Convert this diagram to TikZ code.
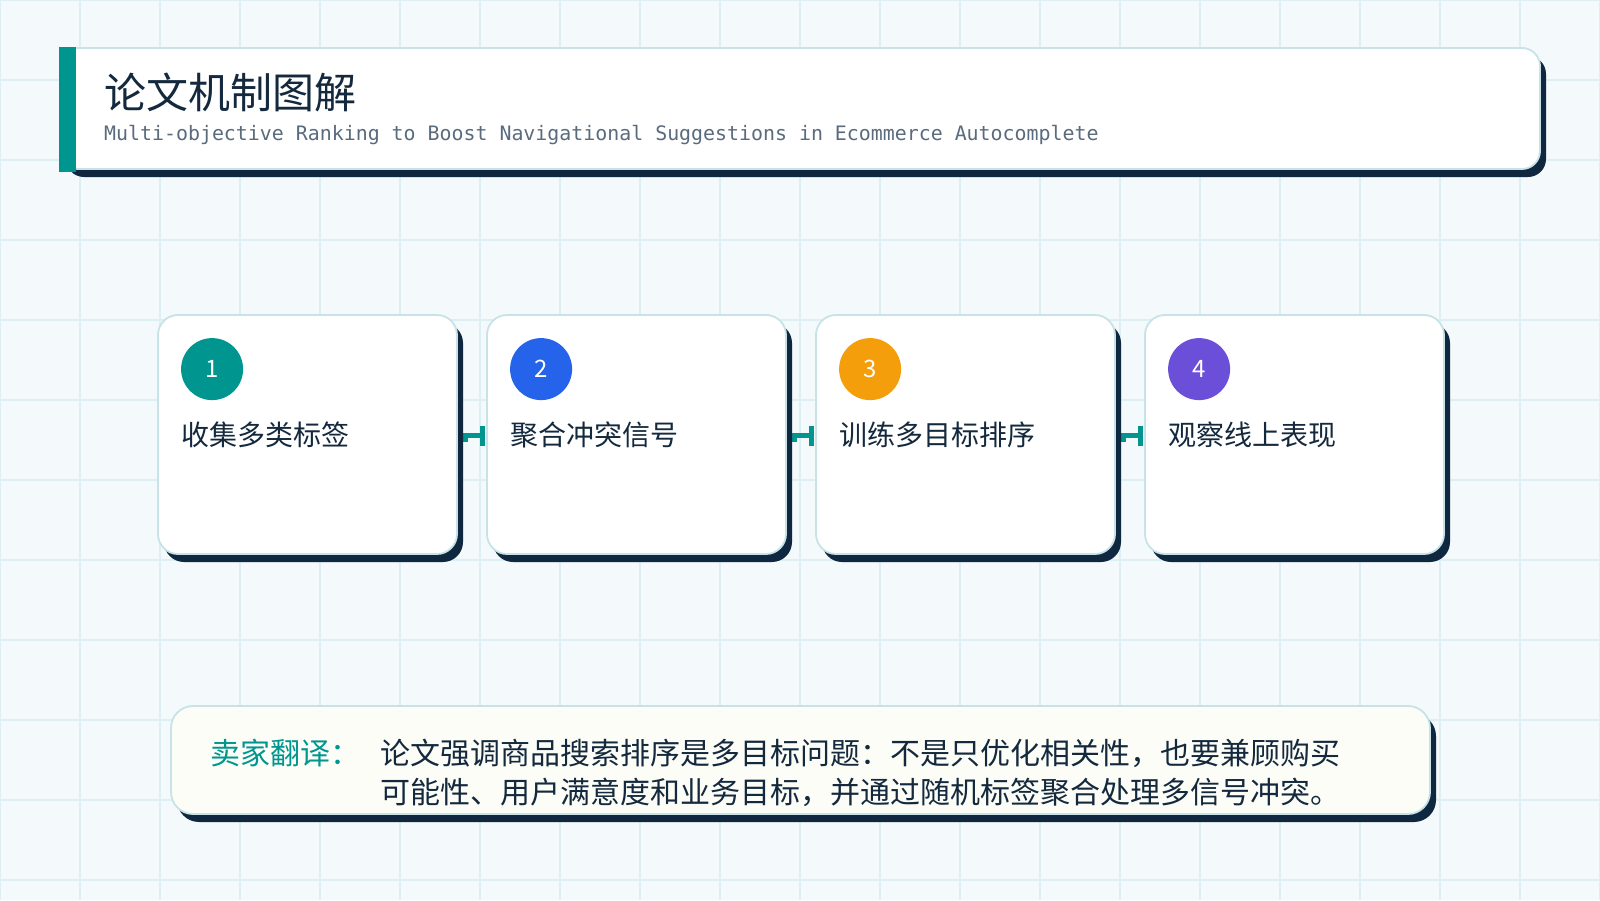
\documentclass[tikz,border=0pt]{standalone}
\usepackage{fontspec}
\usetikzlibrary{shadows,arrows.meta,backgrounds}
\setmainfont{Noto Sans CJK SC}
\newfontfamily\enmono{DejaVu Sans Mono}

\definecolor{ink}{HTML}{14293D}
\definecolor{subgrey}{HTML}{5A6B7E}
\definecolor{navy}{HTML}{10283F}
\definecolor{edgec}{HTML}{C7E3E8}
\definecolor{bgc}{HTML}{F4F9FB}
\definecolor{gridc}{HTML}{DDEFF3}
\definecolor{tealc}{HTML}{00968F}
\definecolor{bluec}{HTML}{2563EB}
\definecolor{orangec}{HTML}{F59E0B}
\definecolor{purplec}{HTML}{6B4FD8}
\definecolor{creamc}{HTML}{FCFDF7}

\tikzset{
  panel/.style={shape=rectangle, draw=edgec, line width=1.8pt, fill=white,
    drop shadow={shadow xshift=6pt, shadow yshift=-8pt, fill=navy, opacity=1}},
  card/.style={panel, rounded corners=20pt, minimum width=299pt, minimum height=239pt},
  badge/.style={shape=circle, inner sep=0pt, minimum size=62pt, text=white,
    font=\fontsize{24}{24}\selectfont},
  steptext/.style={anchor=west, inner sep=0pt, text=ink, font=\fontsize{28}{28}\selectfont},
  flow/.style={draw=tealc, line width=4.5pt, shorten >=1.5pt, -{Bar[width=20pt]}},
}

\begin{document}
\begin{tikzpicture}[x=1pt, y=-1pt]
    \useasboundingbox (0,0) rectangle (1600,900);

    % header
    \node[panel, rounded corners=18pt, minimum width=1480pt, minimum height=121pt] at (800,108.5) (head) {};
    \fill[tealc] (head.north west) rectangle ([xshift=17pt, yshift=-2pt]head.south west);
    \node[anchor=west, inner sep=0pt, text=ink, font=\fontsize{42}{42}\selectfont] at (104,92) (title) {论文机制图解};
    \node[anchor=west, inner sep=0pt, text=subgrey, font=\enmono\fontsize{19.9}{19.9}\selectfont] at (104,135) (subtitle)
        {Multi-objective Ranking to Boost Navigational Suggestions in Ecommerce Autocomplete};

    % steps
    \node[card] at (307.5,434.5) (S1) {};
    \node[card] at (636.5,434.5) (S2) {};
    \node[card] at (965.5,434.5) (S3) {};
    \node[card] at (1294.5,434.5) (S4) {};
    \node[badge, fill=tealc] at ([shift={(55,55)}]S1.north west) (N1) {1};
    \node[badge, fill=bluec] at ([shift={(55,55)}]S2.north west) (N2) {2};
    \node[badge, fill=orangec] at ([shift={(55,55)}]S3.north west) (N3) {3};
    \node[badge, fill=purplec] at ([shift={(55,55)}]S4.north west) (N4) {4};
    \node[steptext] at ([shift={(24,121)}]S1.north west) (T1) {收集多类标签};
    \node[steptext] at ([shift={(24,121)}]S2.north west) (T2) {聚合冲突信号};
    \node[steptext] at ([shift={(24,121)}]S3.north west) (T3) {训练多目标排序};
    \node[steptext] at ([shift={(24,121)}]S4.north west) (T4) {观察线上表现};

    % note
    \node[panel, rounded corners=22pt, fill=creamc, minimum width=1259pt, minimum height=108pt] at (800.5,760) (note) {};
    \node[anchor=west, inner sep=0pt, text=tealc, font=\fontsize{30}{30}\selectfont] at (210,753) (tag) {卖家翻译：};
    \node[anchor=west, inner sep=0pt, align=left, text=ink, font=\fontsize{30}{39}\selectfont] at (380,772.5) (body)
        {论文强调商品搜索排序是多目标问题：不是只优化相关性，也要兼顾购买\\可能性、用户满意度和业务目标，并通过随机标签聚合处理多信号冲突。};

    \begin{scope}[on background layer]
    \fill[bgc] (0,0) rectangle (1600,900);
    \foreach \gx in {0,80,...,1600} \draw[gridc, line width=1.2pt] (\gx,0) -- (\gx,900);
    \foreach \gy in {0,80,...,880} \draw[gridc, line width=1.2pt] (0,\gy) -- (1600,\gy);
    \path[flow] ([yshift=-1pt]S1.east) edge ([yshift=-1pt]S2.west);
    \path[flow] ([yshift=-1pt]S2.east) edge ([yshift=-1pt]S3.west);
    \path[flow] ([yshift=-1pt]S3.east) edge ([yshift=-1pt]S4.west);
    \end{scope}
\end{tikzpicture}
\end{document}
